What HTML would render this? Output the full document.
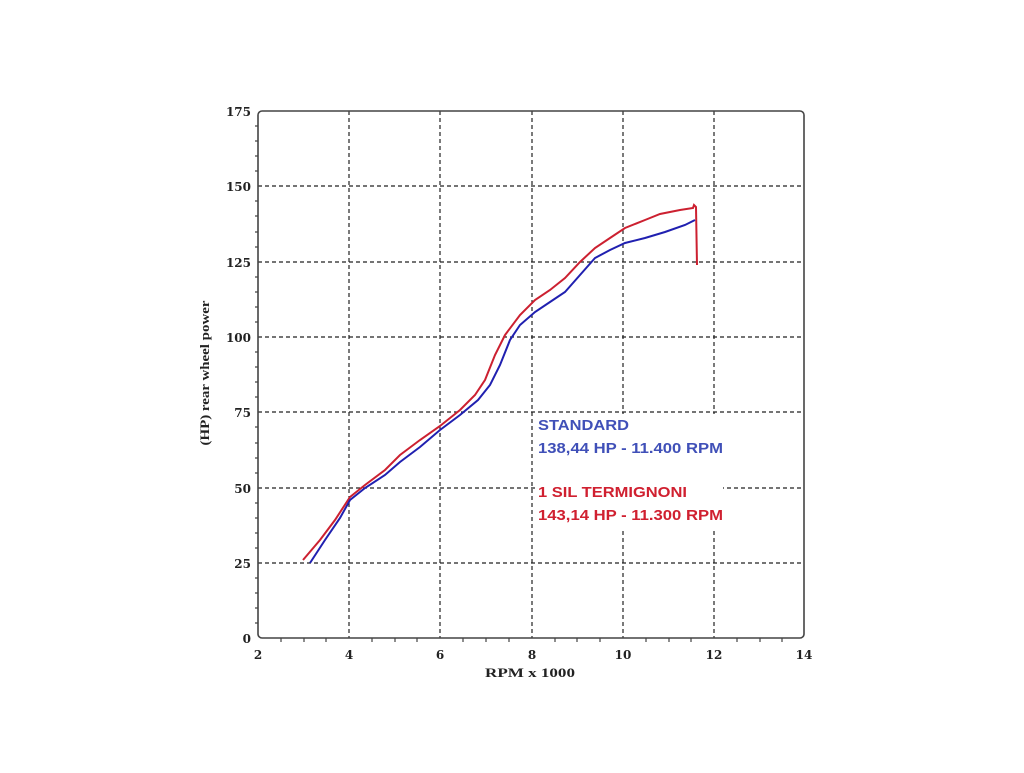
<!DOCTYPE html>
<html><head><style>body{margin:0;background:#fff}</style></head><body>
<svg width="1024" height="768" xmlns="http://www.w3.org/2000/svg" font-family="DejaVu Serif, serif">
<rect x="0" y="0" width="1024" height="768" fill="#fff"/>
<g stroke="#222" stroke-width="1.2" stroke-dasharray="4,3">
<line x1="349" y1="111" x2="349" y2="638"/><line x1="440" y1="111" x2="440" y2="638"/><line x1="532" y1="111" x2="532" y2="638"/><line x1="623" y1="111" x2="623" y2="638"/><line x1="714" y1="111" x2="714" y2="638"/>
<line x1="258" y1="186" x2="804" y2="186"/><line x1="258" y1="262" x2="804" y2="262"/><line x1="258" y1="337" x2="804" y2="337"/><line x1="258" y1="412" x2="804" y2="412"/><line x1="258" y1="488" x2="804" y2="488"/><line x1="258" y1="563" x2="804" y2="563"/>
</g>
<rect x="536" y="414" width="187" height="117" fill="#fff"/>
<rect x="258" y="111" width="546" height="527" rx="4" fill="none" stroke="#444" stroke-width="1.6"/>
<g stroke="#444" stroke-width="1.2">
<path d="M258 126h-3M258 141h-3M258 156h-3M258 171h-3M258 201h-3M258 216h-3M258 232h-3M258 247h-3M258 277h-3M258 292h-3M258 307h-3M258 322h-3M258 352h-3M258 367h-3M258 382h-3M258 397h-3M258 427h-3M258 443h-3M258 458h-3M258 473h-3M258 503h-3M258 518h-3M258 533h-3M258 548h-3M258 578h-3M258 593h-3M258 608h-3M258 623h-3"/>
<path d="M281 638v4M304 638v4M326 638v4M372 638v4M395 638v4M417 638v4M463 638v4M486 638v4M509 638v4M555 638v4M577 638v4M600 638v4M646 638v4M669 638v4M691 638v4M737 638v4M760 638v4M782 638v4"/>
</g>
<g font-weight="bold" font-size="12" fill="#222" text-anchor="end">
<text x="251" y="116">175</text><text x="251" y="191">150</text><text x="251" y="267">125</text><text x="251" y="342">100</text><text x="251" y="417">75</text><text x="251" y="493">50</text><text x="251" y="568">25</text><text x="251" y="643">0</text>
</g>
<g font-weight="bold" font-size="12" fill="#222" text-anchor="middle">
<text x="258" y="659">2</text><text x="349" y="659">4</text><text x="440" y="659">6</text><text x="532" y="659">8</text><text x="623" y="659">10</text><text x="714" y="659">12</text><text x="804" y="659">14</text>
<text x="530" y="677" font-family="Liberation Serif, serif" font-size="13" textLength="90" lengthAdjust="spacingAndGlyphs">RPM x 1000</text>
<text transform="translate(209,373) rotate(-90)" font-family="Liberation Serif, serif" font-size="13" textLength="145" lengthAdjust="spacingAndGlyphs">(HP) rear wheel power</text>
</g>
<polyline fill="none" stroke="#cc2030" stroke-width="2" points="303,560 320,540 335,520 350,497 365,485 385,470 400,455 420,440 440,426 460,410 475,395 485,380 495,355 505,335 520,315 535,300 550,290 565,278 580,262 595,248 610,238 625,228 645,220 660,214 680,210 693,208 694,205 696,207 697,265"/>
<polyline fill="none" stroke="#2020b0" stroke-width="2" points="310,563 325,540 340,518 350,500 365,488 385,475 400,462 420,447 440,430 460,415 478,400 490,385 500,365 510,340 520,325 535,312 550,302 565,292 580,275 595,258 610,250 625,243 645,238 665,232 685,225 695,220"/>
<g font-family="Liberation Sans, sans-serif" font-weight="bold" font-size="15">
<text x="538" y="430" fill="#4050b8" textLength="91" lengthAdjust="spacingAndGlyphs">STANDARD</text>
<text x="538" y="453" fill="#4050b8" textLength="185" lengthAdjust="spacingAndGlyphs">138,44 HP - 11.400 RPM</text>
<text x="538" y="497" fill="#d02030" textLength="149" lengthAdjust="spacingAndGlyphs">1 SIL TERMIGNONI</text>
<text x="538" y="520" fill="#d02030" textLength="185" lengthAdjust="spacingAndGlyphs">143,14 HP - 11.300 RPM</text>
</g>
</svg>
</body></html>
